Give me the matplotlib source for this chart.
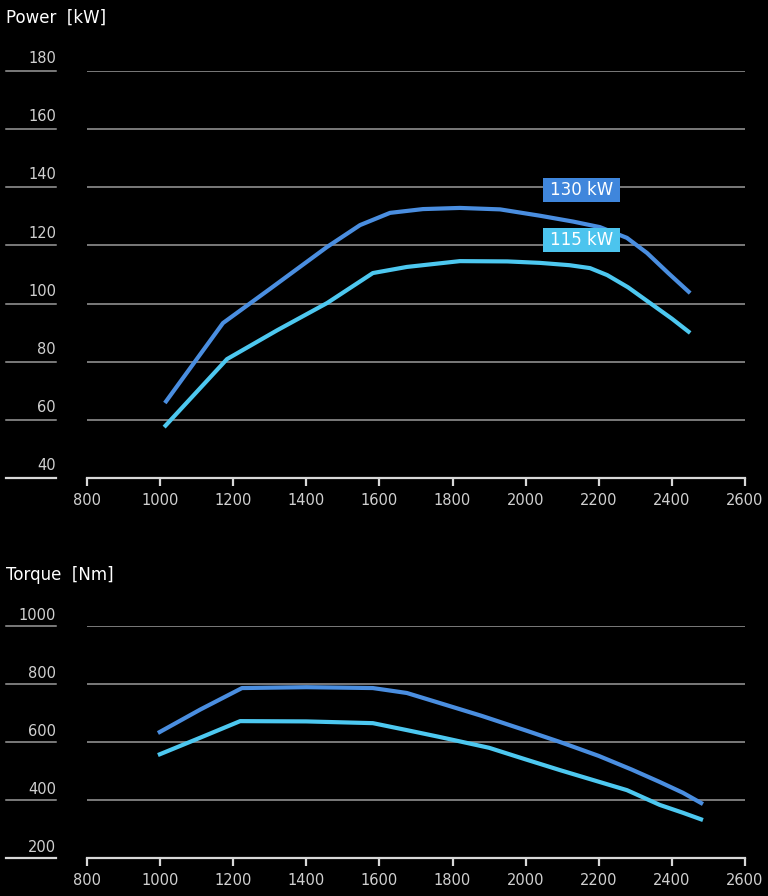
import matplotlib
matplotlib.use("Agg")
import matplotlib.pyplot as plt
from matplotlib.patches import Rectangle
from matplotlib.transforms import blended_transform_factory

# engine speed (rpm) sampling points
rpm_power_130 = [1013, 1172, 1300, 1457, 1547, 1629, 1719, 1820, 1930, 2040, 2130, 2203, 2277, 2332, 2390, 2450]
power_130 = [65.8, 93.3, 105.0, 119.5, 127.0, 131.2, 132.5, 132.9, 132.4, 130.2, 128.2, 126.3, 122.6, 117.4, 110.5, 103.6]

rpm_power_115 = [1011, 1183, 1320, 1457, 1582, 1675, 1820, 1950, 2039, 2120, 2176, 2223, 2280, 2340, 2400, 2450]
power_115 = [57.5, 80.9, 90.8, 100.2, 110.5, 112.6, 114.6, 114.5, 114.0, 113.2, 112.2, 109.8, 105.6, 100.2, 94.8, 89.9]

rpm_torque_130 = [994, 1110, 1224, 1400, 1582, 1675, 1766, 1880, 2000, 2094, 2200, 2290, 2367, 2430, 2485]
torque_130 = [631, 712, 786, 789, 786, 769, 734, 690, 640, 600, 552, 505, 462, 425, 386]

rpm_torque_115 = [994, 1110, 1219, 1400, 1582, 1675, 1766, 1900, 2000, 2094, 2184, 2277, 2367, 2430, 2485]
torque_115 = [555, 615, 672, 671, 665, 641, 617, 580, 540, 503, 469, 434, 383, 356, 331]

x_ticks = [800, 1000, 1200, 1400, 1600, 1800, 2000, 2200, 2400, 2600]
power_ticks = [40, 60, 80, 100, 120, 140, 160, 180]
torque_ticks = [200, 400, 600, 800, 1000]

labels = ["130 kW", "115 kW"]
label_x = [2153, 2153]
label_y = [139.1, 121.9]

C_130 = "#4a8ee0"
C_130_BOX = "#3f86dc"
C_115 = "#4dc8f0"
C_115_BOX = "#4cc4ee"
GRID = "#9a9a9a"
AXIS = "#d8d8d8"
TXT = "#d0d0d0"

W, H = 768, 896
fig = plt.figure(figsize=(W / 100, H / 100), dpi=100, facecolor="black")


def make_axes(bottom_px, top_px, ymin, ymax, yticks, title, title_y_px):
    ax = fig.add_axes([87 / W, 1 - bottom_px / H, (745 - 87) / W, (bottom_px - top_px) / H])
    ax.set_facecolor("black")
    ax.set_xlim(800, 2600)
    ax.set_ylim(ymin, ymax)
    for s in ["top", "right", "left"]:
        ax.spines[s].set_visible(False)
    ax.spines["bottom"].set_color(AXIS)
    ax.spines["bottom"].set_linewidth(1.6)
    ax.set_xticks(x_ticks)
    ax.tick_params(axis="x", colors=AXIS, width=1.6, length=6, direction="out",
                   labelcolor=TXT, labelsize=10.5, pad=5)
    ax.set_yticks([])
    for t in yticks[1:]:
        ax.axhline(t, color=GRID, lw=1.1, zorder=1)
    tr = blended_transform_factory(fig.transFigure, ax.transData)
    for t in yticks:
        ax.plot([6 / W, 56 / W], [t, t], transform=tr, color=AXIS if t == yticks[0] else GRID,
                lw=1.6 if t == yticks[0] else 1.1, clip_on=False)
        ax.text(56 / W, t + (ymax - ymin) * 0.012, str(t), transform=tr, ha="right",
                va="bottom", color=TXT, fontsize=10.5)
    fig.text(6 / W, 1 - title_y_px / H, title, color="white", fontsize=12,
             ha="left", va="center")
    return ax


ax1 = make_axes(478, 71, 40, 180, power_ticks, "Power  [kW]", 18)
ax1.plot(rpm_power_130, power_130, color=C_130, lw=3, solid_capstyle="butt",
         solid_joinstyle="round", zorder=3)
ax1.plot(rpm_power_115, power_115, color=C_115, lw=3, solid_capstyle="butt",
         solid_joinstyle="round", zorder=3)

# label boxes: 77 x 24 px
bw = 77 * (2600 - 800) / (745 - 87)
bh = 24 * (180 - 40) / (478 - 71)
for lab, xv, yv, bc in zip(labels, label_x, label_y, [C_130_BOX, C_115_BOX]):
    ax1.add_patch(Rectangle((xv - bw / 2, yv - bh / 2), bw, bh, facecolor=bc,
                            edgecolor="none", zorder=4))
    ax1.text(xv, yv, lab, color="white", fontsize=12, ha="center", va="center", zorder=5)

ax2 = make_axes(858, 626, 200, 1000, torque_ticks, "Torque  [Nm]", 575)
ax2.plot(rpm_torque_130, torque_130, color=C_130, lw=3, solid_capstyle="butt",
         solid_joinstyle="round", zorder=3)
ax2.plot(rpm_torque_115, torque_115, color=C_115, lw=3, solid_capstyle="butt",
         solid_joinstyle="round", zorder=3)

fig.savefig("out.png", facecolor="black", dpi=100)
